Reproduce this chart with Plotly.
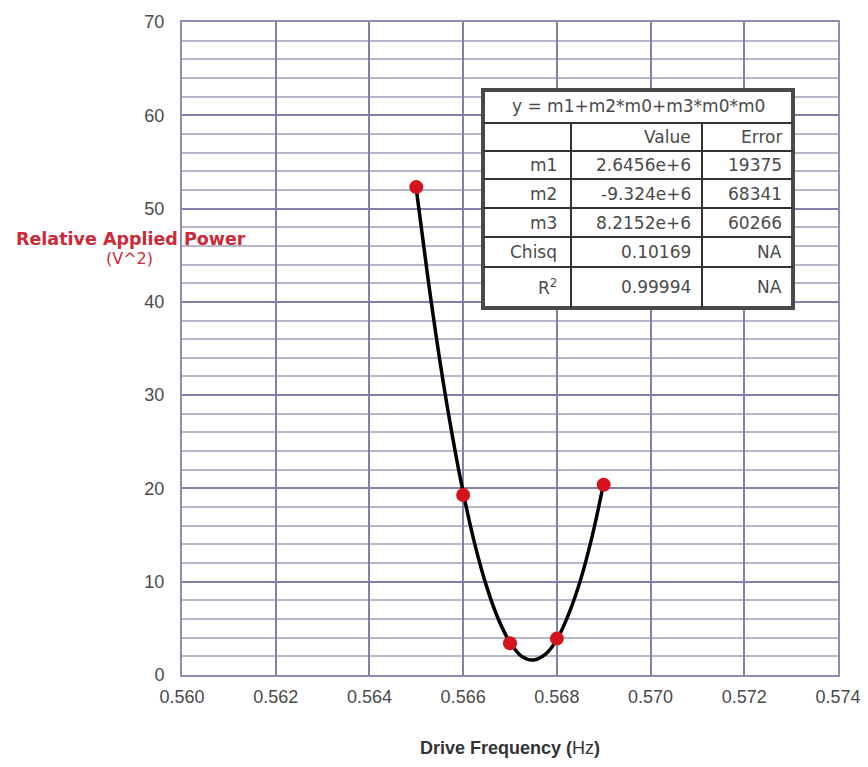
import plotly.graph_objects as go

# ---- data ----
freq = [0.565, 0.566, 0.567, 0.568, 0.569]
power = [52.3, 19.3, 3.4, 3.9, 20.4]

fit_x = [0.56500, 0.56525, 0.56550, 0.56575, 0.56600, 0.56625, 0.56650, 0.56675,
         0.56700, 0.56725, 0.56750, 0.56775, 0.56800, 0.56825, 0.56850, 0.56875, 0.56900]
fit_y = [52.1, 42.5, 33.8, 26.2, 19.6, 14.0, 9.5, 6.0,
         3.5, 2.0, 1.6, 2.2, 3.8, 6.5, 10.1, 14.8, 20.6]

x_ticks = [0.560, 0.562, 0.564, 0.566, 0.568, 0.570, 0.572, 0.574]
y_ticks = [0, 10, 20, 30, 40, 50, 60, 70]

table_title = "y = m1+m2*m0+m3*m0*m0"
table_header = ["", "Value", "Error"]
table_names = ["m1", "m2", "m3", "Chisq", "R<sup>2</sup>"]
table_values = ["2.6456e+6", "-9.324e+6", "8.2152e+6", "0.10169", "0.99994"]
table_errors = ["19375", "68341", "60266", "NA", "NA"]

# ---- layout geometry (pixels) ----
W, H = 868, 767
L, R, T, B = 182, 838, 22, 675


def px(x):
    return (x - L) / (R - L)


def py(y):
    return (B - y) / (B - T)


fig = go.Figure()
fig.add_trace(go.Scatter(x=fit_x, y=fit_y, mode="lines", line=dict(color="black", width=3.5, shape="spline"),
                         hoverinfo="skip", showlegend=False))
fig.add_trace(go.Scatter(x=freq, y=power, mode="markers", marker=dict(color="#d4141c", size=14),
                         showlegend=False))

axis_col = "#8c8cb4"
tick_font = dict(family="Liberation Sans, Arial", size=18, color="#4a4a4a")
fig.update_xaxes(range=[0.560, 0.574], tickvals=x_ticks, ticktext=[f"{v:.3f}" for v in x_ticks],
                 showgrid=True, gridcolor="#8080aa", gridwidth=1.5, automargin=False,
                 showline=True, linecolor=axis_col, linewidth=2, mirror=True, zeroline=False,
                 tickfont=tick_font, ticklabelstandoff=4)
fig.update_yaxes(range=[0, 70], tickvals=y_ticks, showgrid=True, gridcolor="#8080aa", gridwidth=1.5,
                 minor=dict(dtick=2, showgrid=True, gridcolor="#b8b8cc", gridwidth=1.5), automargin=False,
                 showline=True, linecolor=axis_col, linewidth=2, mirror=True, zeroline=False,
                 tickfont=tick_font, ticklabelstandoff=12)

annotations = []
shapes = []

# axis titles
annotations.append(dict(text="<b>Drive Frequency (</b>Hz<b>)</b>", xref="paper", yref="paper",
                        x=px(510), y=py(748), xanchor="center", yanchor="middle", showarrow=False,
                        font=dict(family="Liberation Sans, Arial", size=18, color="#333")))
annotations.append(dict(text="<b>Relative Applied Power</b>", xref="paper", yref="paper",
                        x=px(131), y=py(239), xanchor="center", yanchor="middle", showarrow=False,
                        font=dict(family="DejaVu Sans", size=17.5, color="#cc2a36")))
annotations.append(dict(text="(V^2)", xref="paper", yref="paper",
                        x=px(129), y=py(258), xanchor="center", yanchor="middle", showarrow=False,
                        font=dict(family="DejaVu Sans", size=16, color="#cc2a36")))

# table
tx0, tx1, ty0, ty1 = 483, 793, 90, 308
col_lines = [571, 702]
row_lines = [123, 151, 179, 208, 237, 267]
shapes.append(dict(type="rect", xref="paper", yref="paper", x0=px(tx0), x1=px(tx1), y0=py(ty1), y1=py(ty0),
                   fillcolor="white", line=dict(color="#4a4a4a", width=4), layer="above"))
for yl in row_lines:
    shapes.append(dict(type="line", xref="paper", yref="paper", x0=px(tx0), x1=px(tx1), y0=py(yl), y1=py(yl),
                       line=dict(color="#333", width=2), layer="above"))
for xl in col_lines:
    shapes.append(dict(type="line", xref="paper", yref="paper", x0=px(xl), x1=px(xl), y0=py(row_lines[0]),
                       y1=py(ty1), line=dict(color="#333", width=2), layer="above"))

tfont = dict(family="DejaVu Sans", size=17, color="#4a4a4a")
annotations.append(dict(text=table_title, xref="paper", yref="paper", x=px((tx0 + tx1) / 2), y=py(106),
                        xanchor="center", yanchor="middle", showarrow=False, font=tfont))
col_right = [559, 693, 784]
row_centers = [137, 165, 193.5, 222.5, 252, 287]
for c, txt in enumerate(table_header):
    if txt:
        annotations.append(dict(text=txt, xref="paper", yref="paper", x=px(col_right[c]), y=py(row_centers[0]),
                                xanchor="right", yanchor="middle", showarrow=False, font=tfont))
for i in range(len(table_names)):
    for c, txt in enumerate([table_names[i], table_values[i], table_errors[i]]):
        annotations.append(dict(text=txt, xref="paper", yref="paper", x=px(col_right[c]),
                                y=py(row_centers[i + 1]), xanchor="right", yanchor="middle",
                                showarrow=False, font=tfont))

fig.update_layout(width=W, height=H, margin=dict(l=L, r=W - R, t=T, b=H - B, autoexpand=False),
                  paper_bgcolor="white", plot_bgcolor="white",
                  annotations=annotations, shapes=shapes, showlegend=False)

fig.write_html("out.html")
